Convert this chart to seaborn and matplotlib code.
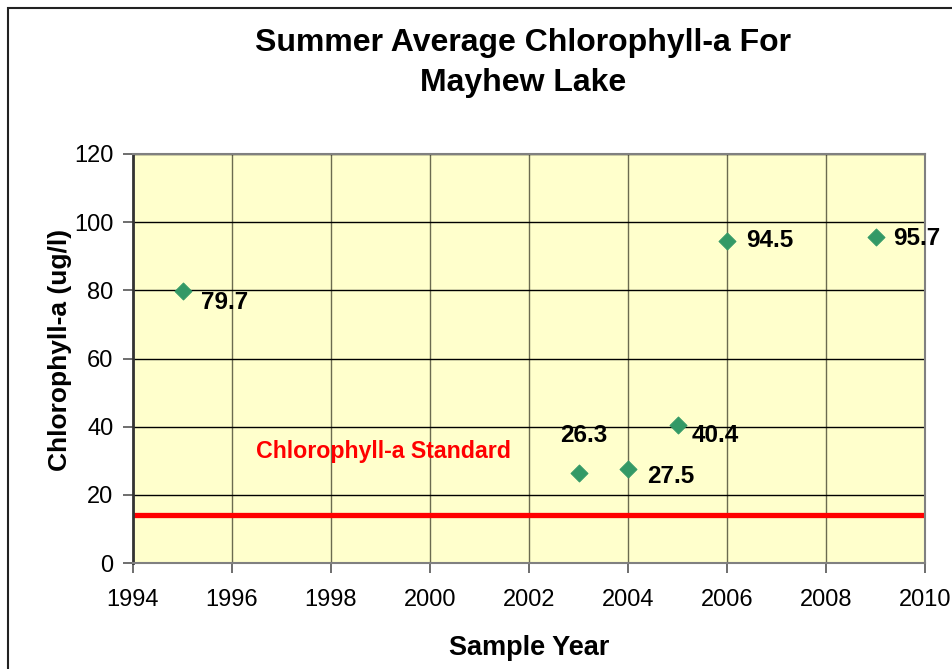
import pandas as pd
import seaborn as sns
import matplotlib.pyplot as plt
from matplotlib.patches import Rectangle

# --- data ---
years = [1995, 2003, 2004, 2005, 2006, 2009]
chl_a = [79.7, 26.3, 27.5, 40.4, 94.5, 95.7]
standard = 14
label_offsets = [(13, -8), (-13, 27), (13.5, -5), (10, -7), (13.5, 0), (13, -1)]  # points

df = pd.DataFrame({"Year": years, "Chl": chl_a})

sns.set_style("white")
plt.rcParams["font.family"] = ["Liberation Sans", "DejaVu Sans"]
plt.rcParams["text.color"] = "black"
plt.rcParams["axes.labelcolor"] = "black"
plt.rcParams["xtick.color"] = "black"
plt.rcParams["ytick.color"] = "black"

fig = plt.figure(figsize=(9.53, 6.69), dpi=100)
ax = fig.add_axes([133 / 953, 1 - 563 / 669, 792 / 953, 409 / 669])
ax.set_facecolor("#FFFFCC")

# outer chart border
fig.patches.append(Rectangle((8 / 953, -0.05), 1.1, (1 - 8 / 669) + 0.05,
                             transform=fig.transFigure, fill=False,
                             edgecolor="#222222", linewidth=1.5))

ax.axhline(standard, color="#FF0000", linewidth=3.8, zorder=2)

sns.scatterplot(data=df, x="Year", y="Chl", marker="D", s=75, color="#339966",
                edgecolor="#339966", ax=ax, zorder=3)

for x, y, (dx, dy) in zip(years, chl_a, label_offsets):
    ax.annotate(f"{y}", (x, y), xytext=(dx, dy), textcoords="offset points",
                fontsize=17.5, fontweight="bold", ha="left", va="center")

ax.text(1996.48, 32.6, "Chlorophyll-a Standard", color="#FF0000", fontsize=16.7,
        fontweight="bold", va="center")

ax.set_xlim(1994, 2010)
ax.set_ylim(0, 120)
ax.set_xticks(range(1994, 2011, 2))
ax.set_yticks(range(0, 121, 20))
ax.grid(True, axis="x", color="#6b6b50", linewidth=1)
ax.grid(True, axis="y", color="black", linewidth=1)
ax.set_axisbelow(True)
ax.tick_params(axis="both", direction="out", length=7, width=1.2, color="#555555",
               labelsize=17, left=True, bottom=True)
ax.tick_params(axis="x", pad=12)
ax.tick_params(axis="y", pad=7)
for name, sp in ax.spines.items():
    sp.set_color("#808080")
    sp.set_linewidth(1.5)
ax.spines["left"].set_color("#333333")
ax.spines["left"].set_linewidth(2)

ax.set_xlabel("Sample Year", fontsize=19.5, fontweight="bold", labelpad=17)
ax.set_ylabel("Chlorophyll-a (ug/l)", fontsize=19, fontweight="bold")
ax.yaxis.set_label_coords(-0.077, 0.52)
fig.text(523 / 953, 1 - 63 / 669,
         "Summer Average Chlorophyll-a For\nMayhew Lake",
         ha="center", va="center", fontsize=23, fontweight="bold", linespacing=1.45)

fig.savefig("out.png", dpi=100)
